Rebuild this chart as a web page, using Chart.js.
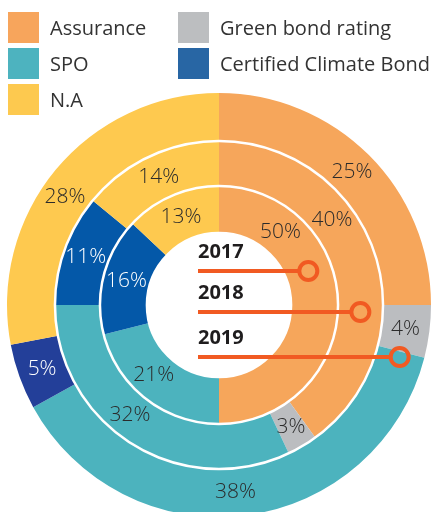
<!DOCTYPE html>
<html>
<head>
<meta charset="utf-8">
<script src="https://cdn.jsdelivr.net/npm/chart.js@4.4.0/dist/chart.umd.min.js"></script>
<style>
  html, body { margin: 0; padding: 0; background: #fff; overflow: hidden; }
  #wrap { position: relative; width: 431px; height: 517px; }
  #legend {
    position: absolute; left: 8px; top: 12px;
    display: grid; grid-template-columns: 170px auto; row-gap: 5px;
    font-family: "Open Sans", sans-serif; font-size: 20px; color: #333;
    white-space: nowrap;
  }
  .item { display: flex; align-items: center; height: 31px; }
  .box { width: 31px; height: 31px; margin-right: 11px; flex: none; }
</style>
</head>
<body>
<div id="wrap">
  <canvas id="ringChart"></canvas>
  <div id="legend"></div>
</div>
<script>
// categories and shares per year (percent)
const categories = ['Assurance', 'Green bond rating', 'SPO', 'Certified Climate Bond', 'N.A'];
const years = ['2017', '2018', '2019'];
const share2017 = [50, 0, 21, 16, 13];
const share2018 = [40, 3, 32, 11, 14];
const share2019 = [25, 4, 38, 5, 28];

// colours
const legendColors = ['#f7a55c', '#bcbec0', '#4db3bf', '#2866a4', '#fdc94f'];
const innerColors = ['#f6a65b', '#bbbdc0', '#4cb3be', '#0458a8', '#fec94f'];
const outerColors = ['#f6a65b', '#bbbdc0', '#4cb3be', '#233f99', '#fec94f'];
const labelColors = ['#2b2b2b', '#2b2b2b', '#2b2b2b', '#ffffff', '#2b2b2b'];
const accent = '#f15a22';

// html legend
const legendEl = document.getElementById('legend');
categories.forEach((c, i) => {
  const d = document.createElement('div');
  d.className = 'item';
  d.innerHTML = '<span class="box" style="background:' + legendColors[i] + '"></span>' + c;
  legendEl.appendChild(d);
});

// ring separators, percent labels and year markers
const ringDecor = {
  id: 'ringDecor',
  afterDatasetsDraw(chart, args, opts) {
    const ctx = chart.ctx;
    const metas = chart.data.datasets.map((d, i) => chart.getDatasetMeta(i));
    const first = metas[0].data[0];
    const cx = first.x, cy = first.y;

    // white circles between rings
    ctx.save();
    ctx.strokeStyle = '#fff';
    ctx.lineWidth = 2.5;
    metas.forEach(m => {
      const r = m.data[0].innerRadius;
      ctx.beginPath();
      ctx.arc(cx, cy, r, 0, Math.PI * 2);
      ctx.stroke();
    });
    ctx.restore();

    // percent labels
    ctx.save();
    ctx.font = '300 21px "Open Sans"';
    ctx.textAlign = 'center';
    ctx.textBaseline = 'middle';
    metas.forEach((m, di) => {
      const values = chart.data.datasets[di].data;
      const year = chart.data.datasets[di].label;
      m.data.forEach((arc, i) => {
        if (!values[i]) return;
        let a = (arc.startAngle + arc.endAngle) / 2;
        const key = year + '-' + i;
        if (opts.angleOverride[key] !== undefined) {
          a = -Math.PI / 2 + opts.angleOverride[key] * Math.PI / 180;
        }
        const r = (arc.innerRadius + arc.outerRadius) / 2;
        ctx.fillStyle = labelColors[i];
        ctx.fillText(values[i] + '%', cx + Math.cos(a) * r, cy + Math.sin(a) * r);
      });
    });
    ctx.restore();

    // year tags with lines to their ring
    ctx.save();
    years.forEach((y, k) => {
      const di = chart.data.datasets.findIndex(d => d.label === y);
      const arc = metas[di].data[0];
      const rMid = (arc.innerRadius + arc.outerRadius) / 2;
      const dy = opts.lineOffsets[k];
      const x0 = cx - 21;
      const x1 = cx + Math.sqrt(rMid * rMid - dy * dy);
      ctx.font = 'bold 20px "Open Sans"';
      ctx.fillStyle = '#1f1d1e';
      ctx.textAlign = 'left';
      ctx.textBaseline = 'alphabetic';
      ctx.fillText(y, x0, cy + dy - 13);
      ctx.strokeStyle = accent;
      ctx.lineWidth = 4;
      ctx.beginPath();
      ctx.moveTo(x0, cy + dy);
      ctx.lineTo(x1 - 9, cy + dy);
      ctx.stroke();
      ctx.beginPath();
      ctx.arc(x1, cy + dy, 9, 0, Math.PI * 2);
      ctx.stroke();
    });
    ctx.restore();
  }
};

new Chart(document.getElementById('ringChart'), {
  type: 'doughnut',
  data: {
    labels: categories,
    datasets: [
      { label: '2019', data: share2019, backgroundColor: outerColors, weight: 48 },
      { label: '2018', data: share2018, backgroundColor: innerColors, weight: 45 },
      { label: '2017', data: share2017, backgroundColor: innerColors, weight: 47 }
    ]
  },
  options: {
    responsive: true,
    maintainAspectRatio: false,
    animation: false,
    cutout: '34%',
    borderWidth: 0,
    hoverOffset: 0,
    layout: { padding: { top: 93, left: 7, right: 0, bottom: 0 } },
    plugins: {
      legend: { display: false },
      tooltip: { enabled: false },
      ringDecor: {
        angleOverride: { '2017-0': 40, '2018-0': 53, '2019-2': 175, '2018-2': 219, '2017-2': 223, '2019-4': 305 },
        lineOffsets: [-34, 7, 52]
      }
    }
  },
  plugins: [ringDecor]
});
</script>
</body>
</html>
